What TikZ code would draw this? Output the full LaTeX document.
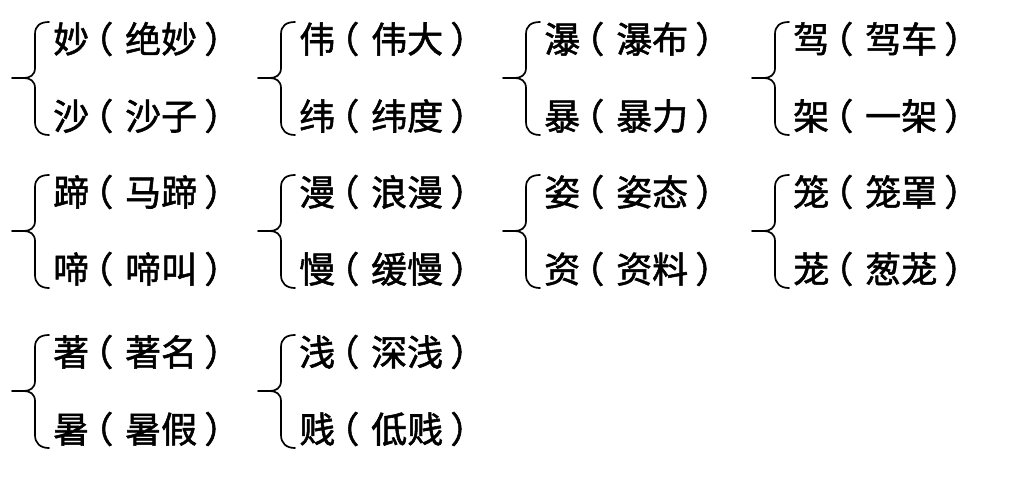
\documentclass[tikz,border=0pt]{standalone}
\usepackage{fontspec}
\newfontfamily\cjk[FakeBold=1.5]{Noto Sans CJK SC}
\newcommand\lpar{\makebox[1em][l]{\kern-0.33em（}}
\newcommand\rpar{\makebox[1em][l]{\kern0.2em）}}
\tikzset{
  bracepath/.style={line width=1.7pt, line cap=round, line join=round},
  word/.style={font=\cjk\fontsize{36}{36}\selectfont, anchor=west, inner sep=0pt}
}
\newcommand\wordgroup[7]{%
  \coordinate (#1tip) at (#2,#3);
  \node[word] (#1a) at (#2+41,#3-39) {#4\lpar#5\rpar};
  \node[word] (#1b) at (#2+41,#3+38) {#6\lpar#7\rpar};
  \draw[bracepath] (#2+37,#3-56) .. controls (#2+28,#3-56) and (#2+23,#3-52) .. (#2+23,#3-44)
     -- (#2+23,#3-10) .. controls (#2+23,#3-3) and (#2+18,#3) .. (#2+12,#3) -- (#1tip);
  \draw[bracepath] (#2+12,#3) .. controls (#2+18,#3) and (#2+23,#3+3) .. (#2+23,#3+10)
     -- (#2+23,#3+44) .. controls (#2+23,#3+52) and (#2+28,#3+57) .. (#2+37,#3+57);
}
\begin{document}
\begin{tikzpicture}[x=1pt,y=-1pt]
\fill[white] (0,0) rectangle (1035,483);
\useasboundingbox (0,0) rectangle (1035,483);
\wordgroup{g1}{12}{78}{妙}{绝妙}{沙}{沙子}
\wordgroup{g2}{258}{78}{伟}{伟大}{纬}{纬度}
\wordgroup{g3}{503}{78}{瀑}{瀑布}{暴}{暴力}
\wordgroup{g4}{752}{78}{驾}{驾车}{架}{一架}
\wordgroup{g5}{12}{231}{蹄}{马蹄}{啼}{啼叫}
\wordgroup{g6}{258}{231}{漫}{浪漫}{慢}{缓慢}
\wordgroup{g7}{503}{231}{姿}{姿态}{资}{资料}
\wordgroup{g8}{752}{231}{笼}{笼罩}{茏}{葱茏}
\wordgroup{g9}{12}{391}{著}{著名}{暑}{暑假}
\wordgroup{g10}{258}{391}{浅}{深浅}{贱}{低贱}
\end{tikzpicture}
\end{document}
